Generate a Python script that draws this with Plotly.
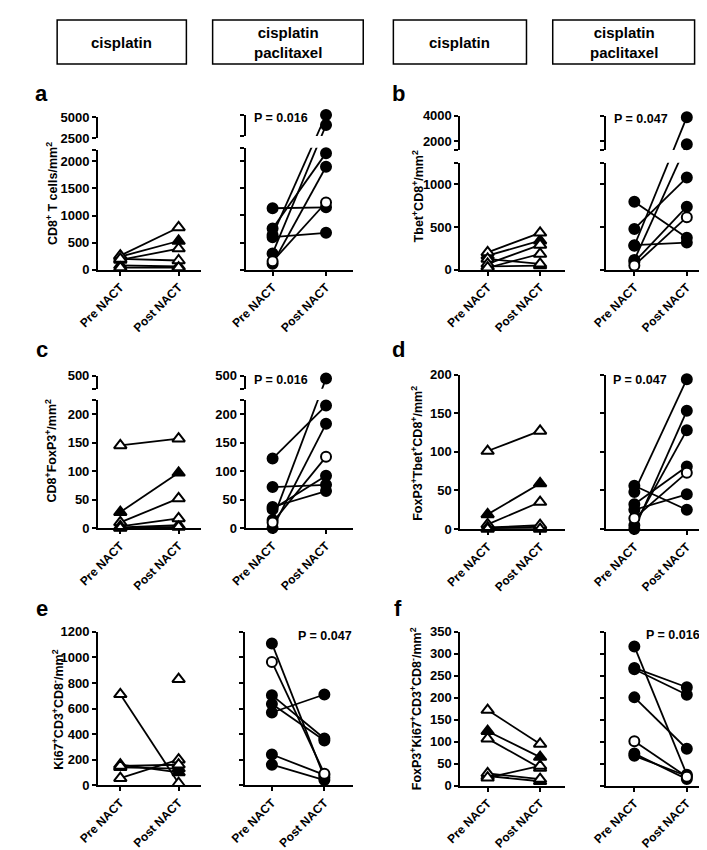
import plotly.graph_objects as go

W, H = 707, 850
FONT = "Liberation Sans"

# ---------------- data ----------------
categories = ["Pre NACT", "Post NACT"]
group_titles = ["cisplatin", "cisplatin<br>paclitaxel", "cisplatin", "cisplatin<br>paclitaxel"]

# a: CD8+ T cells/mm2
a_cis_pre = [260, 240, 180, 200, 80, 40]
a_cis_post = [780, 530, 390, 170, 60, 40]
a_cis_fill = [0, 1, 0, 0, 1, 0]
a_cp_pre = [1134, 600, 760, 640, 300, 155, 110]
a_cp_post = [1150, 680, 2150, 5000, 3800, 1240, 1900]
a_cp_fill = [1, 1, 1, 1, 1, 0, 1]

# b: Tbet+CD8+/mm2
b_cis_pre = [202, 164, 126, 69, 38, 23]
b_cis_post = [432, 340, 69, 290, 49, 184]
b_cis_fill = [0, 1, 0, 0, 1, 0]
b_cp_pre = [795, 477, 287, 280, 115, 90, 50]
b_cp_post = [374, 1078, 317, 3900, 1750, 737, 615]
b_cp_fill = [1, 1, 1, 1, 1, 1, 0]

# c: CD8+FoxP3+/mm2
c_cis_pre = [145, 28, 10, 3, 1, 0]
c_cis_post = [157, 97, 52, 17, 5, 2]
c_cis_fill = [0, 1, 0, 0, 1, 0]
c_cp_pre = [122, 72, 37, 33, 14, 10, 0]
c_cp_post = [215, 76, 65, 92, 480, 125, 183]
c_cp_fill = [1, 1, 1, 1, 1, 0, 1]

# d: FoxP3+Tbet+CD8+/mm2
d_cis_pre = [101, 19, 6, 2, 1, 0]
d_cis_post = [127, 59, 35, 5, 3, 0]
d_cis_fill = [0, 1, 0, 0, 1, 0]
d_cp_pre = [56, 48, 32, 25, 14, 0, 5]
d_cp_post = [25, 194, 81, 45, 73, 153, 128]
d_cp_fill = [1, 1, 1, 1, 0, 1, 1]

# e: Ki67+CD3+CD8-/mm2
e_cis_pre = [711, 160, 55, 140, 150, None]
e_cis_post = [15, 100, 200, 130, 160, 830]
e_cis_fill = [0, 1, 0, 1, 0, 0]
e_cp_pre = [1110, 965, 705, 636, 569, 240, 160]
e_cp_post = [60, 90, 365, 350, 710, 80, 40]
e_cp_fill = [1, 0, 1, 1, 1, 1, 1]

# f: FoxP3+Ki67+CD3+CD8-/mm2
f_cis_pre = [172, 124, 107, 28, 22, 18]
f_cis_post = [95, 65, 40, 15, 10, 45]
f_cis_fill = [0, 1, 0, 0, 1, 0]
f_cp_pre = [317, 268, 265, 201, 101, 73, 68]
f_cp_post = [25, 224, 207, 84, 20, 15, 22]
f_cp_fill = [1, 1, 1, 1, 0, 1, 1]

y_titles = {
    "a": "CD8<sup>+</sup> T cells/mm<sup>2</sup>",
    "b": "Tbet<sup>+</sup>CD8<sup>+</sup>/mm<sup>2</sup>",
    "c": "CD8<sup>+</sup>FoxP3<sup>+</sup>/mm<sup>2</sup>",
    "d": "FoxP3<sup>+</sup>Tbet<sup>+</sup>CD8<sup>+</sup>/mm<sup>2</sup>",
    "e": "Ki67<sup>+</sup>CD3<sup>+</sup>CD8<sup>-</sup>/mm<sup>2</sup>",
    "f": "FoxP3<sup>+</sup>Ki67<sup>+</sup>CD3<sup>+</sup>CD8<sup>-</sup>/mm<sup>2</sup>",
}
p_values = {"a": "P = 0.016", "b": "P = 0.047", "c": "P = 0.016",
            "d": "P = 0.047", "e": "P = 0.047", "f": "P = 0.016"}

# ---------------- figure ----------------
fig = go.Figure()
layout = {}
n = [0]
ytickfont = dict(size=13, color="black", family=FONT, weight="bold")
xtickfont = dict(size=12, color="black", family=FONT, weight="bold")


def seg(xpx, ypx, xr, yr, show_x, tv, tl, show_ylab):
    n[0] += 1
    i = n[0]
    s = "" if i == 1 else str(i)
    layout["xaxis" + s] = dict(
        domain=[xpx[0] / W, xpx[1] / W], range=xr, anchor="y" + s, visible=show_x,
        showgrid=False, zeroline=False, showline=True, linewidth=2, linecolor="black",
        ticks="outside", ticklen=4, tickwidth=2, tickcolor="black",
        tickmode="array", tickvals=[0, 1], ticktext=categories, tickangle=-45,
        tickfont=xtickfont, fixedrange=True)
    layout["yaxis" + s] = dict(
        domain=[1 - ypx[0] / H, 1 - ypx[1] / H], range=yr, anchor="x" + s,
        showgrid=False, zeroline=False, showline=True, linewidth=2, linecolor="black",
        ticks="outside", ticklen=4, tickwidth=2, tickcolor="black",
        tickmode="array", tickvals=tv, ticktext=[str(t) for t in tl],
        showticklabels=show_ylab,
        tickfont=ytickfont, layer="below traces", fixedrange=True)
    return "x" + s, "y" + s


def make_pix(segs):
    """value -> pixel row on the (possibly broken) axis"""
    def pix(v):
        for lo, hi, pyb, pyt, *_ in segs:
            if lo <= v <= hi:
                return pyb - (v - lo) / (hi - lo) * (pyb - pyt)
        if len(segs) > 1 and segs[0][1] < v < segs[1][0]:
            lo0, hi0, pyb0, pyt0 = segs[0][:4]
            lo1, hi1, pyb1, pyt1 = segs[1][:4]
            return pyt0 + (v - hi0) / (lo1 - hi0) * (pyb1 - pyt0)
        return segs[-1][3]
    return pix


def panel(xpx, segs, pre, post, filled, symbol, show_ylab):
    axis_l, axis_r, pre_px, post_px = xpx
    unit = post_px - pre_px
    xr = [(axis_l - pre_px) / unit, (axis_r - pre_px) / unit]
    pix = make_pix(segs)
    for k, (lo, hi, pyb, pyt, tv, tl) in enumerate(segs):
        xa, ya = seg((axis_l, axis_r), (pyb, pyt), xr, [lo, hi], k == 0, tv, tl, show_ylab)

        def to_seg(v):
            return lo + (pyb - pix(v)) / (pyb - pyt) * (hi - lo)

        lx, ly = [], []
        for a, b in zip(pre, post):
            if a is None or b is None:
                continue
            lx += [0, 1, None]
            ly += [to_seg(a), to_seg(b), None]
        fig.add_trace(go.Scatter(x=lx, y=ly, mode="lines", xaxis=xa, yaxis=ya,
                                 line=dict(color="black", width=1.8),
                                 hoverinfo="skip", showlegend=False))
        for flag in (1, 0):
            mx, my = [], []
            for j, (a, b) in enumerate(zip(pre, post)):
                if filled[j] != flag:
                    continue
                for xv, v in ((0, a), (1, b)):
                    if v is not None and lo <= v <= hi:
                        mx.append(xv)
                        my.append(v)
            if not mx:
                continue
            fig.add_trace(go.Scatter(
                x=mx, y=my, mode="markers", xaxis=xa, yaxis=ya, cliponaxis=False,
                marker=dict(symbol=symbol, size=10 if symbol == "circle" else 11,
                            color="black" if flag else "white",
                            line=dict(color="black", width=2)),
                hoverinfo="skip", showlegend=False))


# x geometry (axis left, axis right, pre px, post px)
XL1 = (72, 178, 95, 155)
XR1 = (224, 334, 251.7, 306.7)
XL2 = (445, 553, 473, 527)
XR2 = (595, 705, 624, 678)

segs_a_l = [(0, 2200, 259.3, 137.9, [0, 500, 1000, 1500, 2000, 2200], [0, 500, 1000, 1500, 2000, ""]),
            (2500, 5000, 125.3, 104, [2500, 5000], [2500, 5000])]
segs_a_r = [(0, 2250, 259.3, 135.1, [0, 500, 1000, 1500, 2000, 2250], [0, 500, 1000, 1500, 2000, ""]),
            (2500, 5000, 123.3, 101.7, [2500, 5000], [2500, 5000])]
segs_b = [(0, 1250, 259.3, 150.5, [0, 500, 1000, 1250], [0, 500, 1000, ""]),
          (1300, 4000, 137.3, 102.7, [1300, 2000, 4000], ["", 2000, 4000])]
segs_c = [(0, 225, 522.3, 391.8, [0, 50, 100, 150, 200, 225], [0, 50, 100, 150, 200, ""]),
          (400, 500, 380.5, 367.3, [400, 500], ["", 500])]
segs_d = [(0, 200, 523.3, 366, [0, 50, 100, 150, 200], [0, 50, 100, 150, 200])]
segs_e = [(0, 1200, 784, 628, [0, 200, 400, 600, 800, 1000, 1200], [0, 200, 400, 600, 800, 1000, 1200])]
segs_f = [(0, 350, 784.5, 628, [0, 50, 100, 150, 200, 250, 300, 350], [0, 50, 100, 150, 200, 250, 300, 350])]

panel(XL1, segs_a_l, a_cis_pre, a_cis_post, a_cis_fill, "triangle-up", True)
panel(XR1, segs_a_r, a_cp_pre, a_cp_post, a_cp_fill, "circle", False)
panel(XL2, segs_b, b_cis_pre, b_cis_post, b_cis_fill, "triangle-up", True)
panel(XR2, segs_b, b_cp_pre, b_cp_post, b_cp_fill, "circle", False)
panel(XL1, segs_c, c_cis_pre, c_cis_post, c_cis_fill, "triangle-up", True)
panel(XR1, segs_c, c_cp_pre, c_cp_post, c_cp_fill, "circle", True)
panel(XL2, segs_d, d_cis_pre, d_cis_post, d_cis_fill, "triangle-up", True)
panel(XR2, segs_d, d_cp_pre, d_cp_post, d_cp_fill, "circle", False)
panel(XL1, segs_e, e_cis_pre, e_cis_post, e_cis_fill, "triangle-up", True)
panel((223, 334, 251, 305), segs_e, e_cp_pre, e_cp_post, e_cp_fill, "circle", False)
panel(XL2, segs_f, f_cis_pre, f_cis_post, f_cis_fill, "triangle-up", True)
panel(XR2, segs_f, f_cp_pre, f_cp_post, f_cp_fill, "circle", False)

annotations = []
shapes = []


def ann(text, x, y, size, angle=0, xanchor="center"):
    annotations.append(dict(text=text, x=x / W, y=1 - y / H, xref="paper", yref="paper",
                            showarrow=False, textangle=angle, xanchor=xanchor, yanchor="middle",
                            font=dict(size=size, color="black", family=FONT, weight="bold")))


# header boxes
boxes = [(30, 163), (190, 345), (376, 513), (540, 686)]
for (x0, x1), t in zip(boxes, group_titles):
    shapes.append(dict(type="rect", xref="paper", yref="paper", x0=x0 / W, x1=x1 / W,
                       y0=1 - 50 / H, y1=1 - 5 / H, line=dict(color="black", width=1.5)))
    ann(t, (x0 + x1) / 2, 27.5, 15)

# panel letters
for L, x, y in [("a", 14, 80), ("b", 381, 80), ("c", 14, 341), ("d", 381, 341),
                ("e", 14, 604), ("f", 381, 604)]:
    ann(L, x, y, 22)

# y titles
for L, x, y in [("a", 24, 182), ("b", 401, 185), ("c", 24, 444), ("d", 400, 446),
                ("e", 30, 707), ("f", 399, 706)]:
    ann(y_titles[L], x, y, 12.5, angle=-90)

# p-values
for L, x, y in [("a", 260, 105), ("b", 631, 106), ("c", 260, 372), ("d", 630, 372),
                ("e", 306, 632), ("f", 664, 631)]:
    ann(p_values[L], x, y, 12.5)

fig.update_layout(**layout)
fig.update_layout(width=W, height=H, margin=dict(l=0, r=0, t=0, b=0),
                  paper_bgcolor="white", plot_bgcolor="white",
                  annotations=annotations, shapes=shapes, showlegend=False)

fig.write_html("out.html")
